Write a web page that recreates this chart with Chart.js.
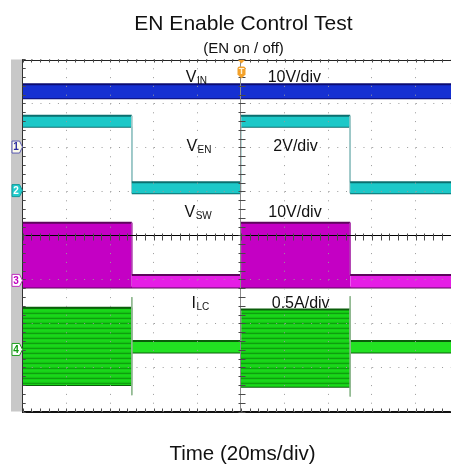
<!DOCTYPE html>
<html>
<head>
<meta charset="utf-8">
<script src="https://cdn.jsdelivr.net/npm/chart.js@4"></script>
<style>
  html, body { margin: 0; padding: 0; background: #fff; overflow: hidden; }
  #wrap { position: relative; width: 451px; height: 468px; }
</style>
</head>
<body>
<div id="wrap"><canvas id="scope" width="451" height="468"></canvas></div>
<script>
// EN on/off capture. Horizontal: time in ms (20 ms/div). Vertical: screen divisions.
// Each trace is a band (upper and lower envelope) held constant over each segment.
const segEdgesMs = [-100, -50, 0, 50, 96.2];

const vinTop    = [3.44, 3.44, 3.44, 3.44];
const vinBottom = [3.12, 3.12, 3.12, 3.12];

const venTop    = [2.72, 1.21, 2.72, 1.21];
const venBottom = [2.47, 0.96, 2.47, 0.96];

const vswTop    = [0.29, -0.90, 0.29, -0.90];
const vswBottom = [-1.18, -1.18, -1.18, -1.18];

const ilcTop    = [-1.64, -2.40, -1.68, -2.40];
const ilcBottom = [-3.40, -2.66, -3.44, -2.66];

// current spikes at the EN falling edges
const ilcSpikeMs     = [-50, 50];
const ilcSpikeTop    = [-1.40, -1.38];
const ilcSpikeBottom = [-3.63, -3.66];

// channel ground markers (divisions)
const channelNames  = ['1', '2', '3', '4'];
const channelLevels = [2.01, 1.02, -1.02, -2.59];

// trace annotations
const traceNames  = [['V', 'IN'], ['V', 'EN'], ['V', 'SW'], ['I', 'LC']];
const traceScales = ['10V/div', '2V/div', '10V/div', '0.5A/div'];

const chartTitle    = 'EN Enable Control Test';
const chartSubtitle = '(EN on / off)';
const timeAxisTitle = 'Time (20ms/div)';

const FONT = '"Liberation Sans", Arial, Helvetica, sans-serif';

function steps(levels) {
  const pts = [];
  levels.forEach((v, i) => {
    pts.push({ x: segEdgesMs[i], y: v });
    pts.push({ x: segEdgesMs[i + 1], y: v });
  });
  return pts;
}

// a real level change (vertical edge), not a join between equal levels
const isEdge = c => c.p0.parsed.x === c.p1.parsed.x && c.p0.parsed.y !== c.p1.parsed.y;

function stripePattern(rows) {
  const c = document.createElement('canvas');
  c.width = 1; c.height = rows.length;
  const g = c.getContext('2d');
  rows.forEach((col, i) => { g.fillStyle = col; g.fillRect(0, i, 1, 1); });
  return g.createPattern(c, 'repeat');
}
const ilcStripes = stripePattern(['#1ad81a', '#18d418', '#14c414', '#0f9e0f', '#17cf17']);

function band(name, top, bottom, s) {
  const common = {
    pointRadius: 0,
    pointHoverRadius: 0,
    borderColor: s.edge,
    borderWidth: s.edgeWidth,
    tension: 0,
    order: s.order
  };
  return [
    Object.assign({}, common, {
      label: name + ' upper',
      data: steps(top),
      fill: '+1',
      backgroundColor: s.fill,
      segment: {
        borderColor: c => isEdge(c) ? s.edgeVertical : undefined,
        borderWidth: c => isEdge(c) ? 1 : undefined,
        backgroundColor: c => s.fillFor ? s.fillFor(c) : undefined
      }
    }),
    Object.assign({}, common, {
      label: name + ' lower',
      data: steps(bottom),
      fill: false,
      segment: {
        borderColor: c => isEdge(c) ? s.edgeVertical : undefined,
        borderWidth: c => isEdge(c) ? 1 : undefined
      }
    })
  ];
}

const datasets = [].concat(
  ilcSpikeMs.map((t, i) => ({
    label: 'ILC spike ' + (i + 1),
    data: [{ x: t, y: ilcSpikeTop[i] }, { x: t, y: ilcSpikeBottom[i] }],
    borderColor: '#8fb88f', borderWidth: 1, pointRadius: 0, fill: false, order: 0
  })),
  band('VIN', vinTop, vinBottom, {
    edge: '#0c0c72', edgeWidth: 2, edgeVertical: '#0c0c72', fill: '#1630d2', order: 1
  }),
  band('VEN', venTop, venBottom, {
    edge: '#0b6e6e', edgeWidth: 2, edgeVertical: '#9cc8c8', fill: '#1cc8c8', order: 1
  }),
  band('VSW', vswTop, vswBottom, {
    edge: '#5c065c', edgeWidth: 2, edgeVertical: '#b040b0', fill: '#c400c4', order: 1,
    fillFor: c => c.p0.parsed.y > 0 ? '#c400c4' : '#e61ee6'
  }),
  band('ILC', ilcTop, ilcBottom, {
    edge: '#0a5e0a', edgeWidth: 2, edgeVertical: '#8fb88f', fill: '#22e222', order: 1,
    fillFor: c => c.p0.parsed.y > -2 ? ilcStripes : '#22e222'
  })
);

// Graticule extras, channel markers, trigger marker and all captions
const scopeDecor = {
  id: 'scopeDecor',
  beforeDraw(chart) {
    const { ctx, chartArea: a } = chart;
    ctx.save();
    ctx.fillStyle = '#fff';
    ctx.fillRect(0, 0, chart.width, chart.height);
    ctx.fillStyle = '#c8c8c8';
    ctx.fillRect(11, a.top, a.left - 11, a.bottom - a.top);
    ctx.restore();
  },
  afterDraw(chart) {
    const { ctx, chartArea: a } = chart;
    const xs = chart.scales.x, ys = chart.scales.y;
    const x0 = Math.round(xs.getPixelForValue(0)) + 0.5;
    const y0 = Math.round(ys.getPixelForValue(0)) + 0.5;
    ctx.save();

    // top frame line
    ctx.strokeStyle = '#222';
    ctx.lineWidth = 1;
    ctx.beginPath();
    ctx.moveTo(a.left, Math.round(a.top) + 0.5);
    ctx.lineTo(a.right, Math.round(a.top) + 0.5);
    ctx.stroke();

    // minor ticks: 5 per division on the centre cross and on the frame
    ctx.strokeStyle = '#4a4a4a';
    ctx.beginPath();
    for (let t = -100; t <= 96; t += 4) {
      const px = Math.round(xs.getPixelForValue(t)) + 0.5;
      ctx.moveTo(px, y0 - 3); ctx.lineTo(px, y0 + 4);
      ctx.moveTo(px, a.top); ctx.lineTo(px, a.top + 3);
      ctx.moveTo(px, a.bottom - 3); ctx.lineTo(px, a.bottom);
    }
    for (let d = -4; d <= 4.001; d += 0.2) {
      const py = Math.round(ys.getPixelForValue(d)) + 0.5;
      ctx.moveTo(x0 - 3, py); ctx.lineTo(x0 + 4, py);
      ctx.moveTo(a.left, py); ctx.lineTo(a.left + 3, py);
    }
    ctx.stroke();

    // channel ground markers on the left strip
    const markerStyle = [
      { fill: '#fbfbea', stroke: '#5a5ab4', text: '#2a2aa0' },
      { fill: '#22cccc', stroke: '#139a9a', text: '#ffffff' },
      { fill: '#ffffff', stroke: '#c030c0', text: '#c000c0' },
      { fill: '#ffffff', stroke: '#22a022', text: '#119911' }
    ];
    ctx.font = 'bold 10px ' + FONT;
    ctx.textAlign = 'center';
    ctx.textBaseline = 'middle';
    channelLevels.forEach((lvl, i) => {
      const py = ys.getPixelForValue(lvl);
      const st = markerStyle[i];
      ctx.beginPath();
      ctx.moveTo(12, py - 6);
      ctx.lineTo(19.5, py - 6);
      ctx.lineTo(22.5, py);
      ctx.lineTo(19.5, py + 6);
      ctx.lineTo(12, py + 6);
      ctx.closePath();
      ctx.fillStyle = st.fill; ctx.fill();
      ctx.strokeStyle = st.stroke; ctx.lineWidth = 1; ctx.stroke();
      ctx.fillStyle = st.text;
      ctx.fillText(channelNames[i], 16, py + 0.5);
    });

    // trigger position marker
    ctx.fillStyle = '#f3a12a';
    ctx.beginPath();
    ctx.moveTo(x0 - 3.5, a.top + 0.5);
    ctx.lineTo(x0 + 3.5, a.top + 0.5);
    ctx.lineTo(x0, a.top + 4);
    ctx.closePath();
    ctx.fill();
    const tr = { x: x0 - 4, y: a.top + 7, w: 8, h: 12 };
    ctx.beginPath();
    ctx.moveTo(tr.x + 2, tr.y);
    ctx.lineTo(tr.x + tr.w - 2, tr.y);
    ctx.quadraticCurveTo(tr.x + tr.w, tr.y, tr.x + tr.w, tr.y + 2);
    ctx.lineTo(tr.x + tr.w, tr.y + tr.h - 4);
    ctx.lineTo(tr.x + tr.w / 2, tr.y + tr.h);
    ctx.lineTo(tr.x, tr.y + tr.h - 4);
    ctx.lineTo(tr.x, tr.y + 2);
    ctx.quadraticCurveTo(tr.x, tr.y, tr.x + 2, tr.y);
    ctx.fill();
    ctx.fillStyle = '#fff3d8';
    ctx.font = 'bold 9px ' + FONT;
    ctx.fillText('T', x0, tr.y + 5.5);

    // trace names and vertical scales
    const namePos  = [[-25.3, 3.50], [-25.0, 1.91], [-25.9, 0.42], [-22.7, -1.64]];
    const scalePos = [[12.2, 3.50], [14.8, 1.91], [12.5, 0.42], [14.1, -1.64]];
    ctx.fillStyle = '#111';
    ctx.textAlign = 'left';
    ctx.textBaseline = 'alphabetic';
    traceNames.forEach((nm, i) => {
      let px = xs.getPixelForValue(namePos[i][0]);
      const py = ys.getPixelForValue(namePos[i][1]);
      ctx.font = '16px ' + FONT;
      ctx.fillText(nm[0], px, py);
      px += ctx.measureText(nm[0]).width + 0.5;
      ctx.font = '10px ' + FONT;
      ctx.fillText(nm[1], px, py + 2);
      ctx.font = '16px ' + FONT;
      ctx.fillText(traceScales[i], xs.getPixelForValue(scalePos[i][0]), ys.getPixelForValue(scalePos[i][1]));
    });

    // titles
    ctx.textAlign = 'center';
    ctx.fillStyle = '#111';
    ctx.font = '21px ' + FONT;
    ctx.fillText(chartTitle, 243.5, 30);
    ctx.font = '15px ' + FONT;
    ctx.fillText(chartSubtitle, 243.5, 52.5);
    ctx.font = '20.5px ' + FONT;
    ctx.fillText(timeAxisTitle, 242.5, 459.5);
    ctx.restore();
  }
};

const isCentre = c => c.tick && Math.abs(c.tick.value) < 1e-9;

new Chart(document.getElementById('scope'), {
  type: 'line',
  data: { datasets },
  options: {
    responsive: false,
    animation: false,
    events: [],
    parsing: true,
    layout: { padding: { left: 22.7, top: 59.5, right: 0, bottom: 56.5 } },
    plugins: { legend: { display: false }, tooltip: { enabled: false }, title: { display: false } },
    scales: {
      x: {
        type: 'linear',
        min: segEdgesMs[0],
        max: segEdgesMs[segEdgesMs.length - 1],
        ticks: { display: false, stepSize: 20, includeBounds: false },
        grid: {
          drawTicks: false,
          z: 1,
          color: c => isCentre(c) ? '#8a8a8a' : '#9a9a9a',
          lineWidth: 1
        },
        border: {
          display: true, z: 1, color: '#111', width: 2,
          dash: c => isCentre(c) ? [] : [1, 7.8]
        }
      },
      y: {
        type: 'linear',
        min: -4, max: 4,
        ticks: { display: false, stepSize: 1, includeBounds: false },
        grid: {
          drawTicks: false,
          z: 1,
          color: c => isCentre(c) ? '#000' : '#9a9a9a',
          lineWidth: 1
        },
        border: {
          display: true, z: 1, color: '#333', width: 1,
          dash: c => isCentre(c) ? [] : [1, 7.73]
        }
      }
    }
  },
  plugins: [scopeDecor]
});
</script>
</body>
</html>
